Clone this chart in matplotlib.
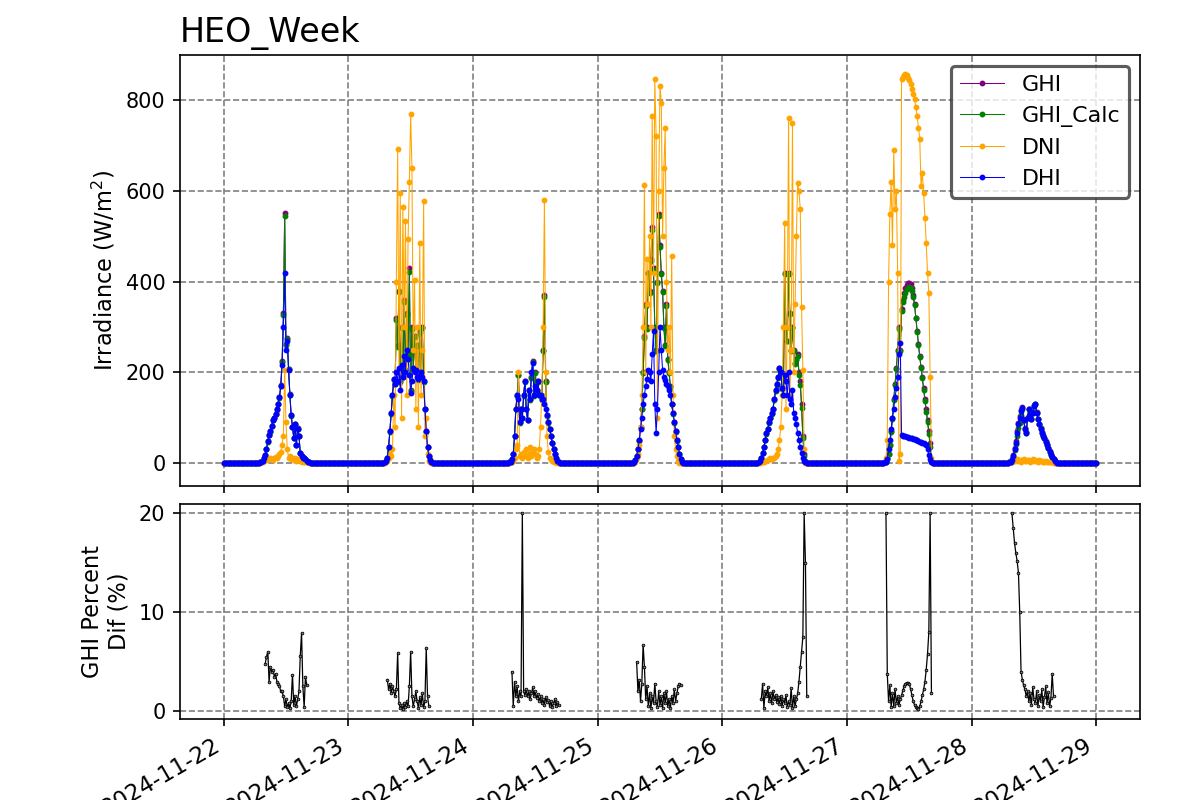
import numpy as np
import pandas as pd
import matplotlib
matplotlib.use("Agg")
import matplotlib.pyplot as plt
import matplotlib.dates as mdates

nan = np.nan

# each day: 15-min values from 06:30 to 17:00 (43 points), night is 0 / missing
days = ["2024-11-22", "2024-11-23", "2024-11-24", "2024-11-25",
        "2024-11-26", "2024-11-27", "2024-11-28"]
day_first = "6h30min"
step = "15min"

dhi_days = [
    [0,0,1,2,5,10,18,30,48,62, 70,82,95,100,108,118,130,145,170,215, 300,420,250,270,205,150,105,80,55,85, 40,75,60,22,15,12,10,8,5,2, 1,0,0],
    [0,0,2,5,12,35,70,110,150,185, 175,200,180,210,160,215,190,235,200,250, 230,195,155,180,210,200,205,190,185,195, 200,190,180,120,70,35,15,6,2,0, 0,0,0],
    [0,0,1,3,8,20,60,120,150,140, 90,120,100,150,180,120,95,160,140,200, 220,150,170,160,180,150,150,140,140,130, 120,105,90,75,60,45,30,20,10,5, 2,0,0],
    [0,0,2,6,15,30,50,75,100,130, 150,170,185,205,200,180,240,290,130,65, 120,200,300,250,205,190,183,175,170,160, 150,130,110,90,70,50,35,20,8,2, 0,0,0],
    [0,0,2,5,12,22,35,50,65,75, 90,100,110,120,140,160,175,190,210,200, 165,150,195,180,150,200,140,130,160,110, 100,85,66,50,35,22,12,5,1,0, 0,0,0],
    [0,0,0,1,3,8,30,50,75,100, 120,145,165,190,240,265,62,60,60,59, 58,57,56,55,54,53,52,51,50,48, 47,46,45,43,41,40,30,18,8,2, 0,0,0],
    [0,0,0,1,3,7,15,30,45,66, 85,100,114,122,95,75,66,100,118,105, 96,110,125,129,110,96,85,75,66,60, 55,47,40,32,25,18,13,8,4,2, 0,0,0],
]

ghi_days = [
    [0,0,1,2,5,10,18,30,48,62, 70,82,95,100,108,118,130,145,172,225, 330,552,262,275,208,152,105,80,56,86, 40,76,60,22,15,12,10,8,5,2, 1,0,0],
    [0,0,2,5,12,35,70,110,150,185, 175,320,260,380,180,300,190,360,205,330, 240,430,160,300,210,280,205,260,185,290, 200,300,180,120,70,35,15,6,2,0, 0,0,0],
    [0,0,1,3,8,20,60,120,150,195, 90,120,100,150,180,120,95,160,140,190, 225,150,200,160,180,150,150,140,250,370, 180,105,90,75,60,45,30,20,10,5, 2,0,0],
    [0,0,2,6,15,30,50,80,120,200, 280,350,300,420,380,450,520,430,300,250, 400,550,480,420,380,300,260,350,230,200, 170,130,110,90,70,50,35,20,8,2, 0,0,0],
    [0,0,2,5,12,22,35,50,65,75, 90,100,110,120,140,160,175,190,210,200, 165,150,420,300,270,420,330,250,300,250, 220,230,240,200,180,130,60,20,5,0, 0,0,0],
    [0,0,0,1,3,10,20,40,70,100, 140,175,210,250,300,250,340,360,375,385, 393,397,398,395,385,370,350,320,290,262, 235,212,190,165,140,118,95,70,45,5, 0,0,0],
    [0,0,0,1,3,8,17,33,49,70, 88,103,116,124,97,77,68,102,120,107, 98,112,127,131,112,98,87,77,68,61, 56,48,41,33,26,19,14,9,5,2, 0,0,0],
]

ghi_calc_days = [
    [0,0,1,2,5,10,18,30,47,61, 69,81,94,99,107,117,129,144,170,222, 326,545,260,273,207,151,104,80,55,85, 40,75,60,22,15,12,10,8,5,2, 1,0,0],
    [0,0,2,5,12,34,69,109,148,183, 174,316,256,378,179,297,189,356,204,327, 238,422,158,296,208,277,203,257,184,287, 199,297,179,119,69,35,15,6,2,0, 0,0,0],
    [0,0,1,3,8,20,59,118,148,193, 89,118,99,148,178,119,94,158,139,188, 222,148,198,158,178,149,149,139,247,366, 178,104,89,74,59,45,30,20,10,5, 2,0,0],
    [0,0,2,6,15,30,49,78,118,198, 276,346,296,418,376,446,515,426,297,248, 398,545,477,416,377,297,258,346,228,198, 168,129,109,89,69,49,35,20,8,2, 0,0,0],
    [0,0,2,5,12,22,35,50,64,74, 89,99,109,119,139,158,173,188,208,198, 164,149,416,298,268,416,328,248,297,247, 218,228,237,194,173,122,55,16,5,0, 0,0,0],
    [0,0,0,1,3,9,19,39,69,98, 139,173,208,247,296,248,336,354,367,376, 383,387,388,386,380,367,348,319,289,261, 234,210,187,161,136,113,90,64,36,5, 0,0,0],
    [0,0,0,1,3,7,14,28,42,60, 76,89,105,120,95,75,67,100,118,105, 97,110,125,129,110,96,86,76,67,60, 55,47,40,32,25,18,13,8,4,2, 0,0,0],
]

dni_days = [
    [0,0,1,2,3,5,8,6,10,8, 12,9,7,11,14,10,15,20,25,40, 60,205,90,30,12,15,8,10,6,12, 5,8,9,4,3,5,2,3,2,1, 0,0,0],
    [0,0,0,2,5,10,20,15,30,150, 80,400,692,200,596,100,564,300,534,150, 493,620,769,650,250,404,120,300,80,486, 150,250,577,60,100,20,5,2,0,0, 0,0,0],
    [0,0,0,1,2,5,10,30,40,200, 15,20,10,25,15,30,10,20,35,15, 25,30,20,10,15,30,80,150,300,580, 200,60,25,10,8,5,3,2,1,0, 0,0,0],
    [0,0,0,2,10,20,40,80,150,300, 614,200,450,350,500,300,765,420,846,722, 100,600,832,795,500,650,740,400,250,300, 200,456,150,60,30,15,5,0,0,0, 0,0,0],
    [0,0,0,0,1,2,3,5,5,6, 8,10,8,12,10,15,20,30,50,80, 150,300,530,120,300,762,150,250,750,200, 350,500,618,600,560,345,205,30,0,0, 0,0,0],
    [0,0,0,2,10,50,400,550,620,480, 690,560,600,420,5,20,846,852,856,857, 855,850,845,835,825,815,802,785,765,740, 715,610,640,596,540,485,420,375,190,10, 0,0,0],
    [0,0,0,1,2,3,5,4,6,8, 5,7,3,6,8,4,5,7,6,3, 5,8,4,6,5,3,6,4,5,3, 2,4,3,2,1,2,1,0,0,0, 0,0,0],
]

pct_days = [
    [nan,nan,nan,nan,nan,nan,4.8,5.5,6.0,3.0, 4.5,4.0,4.2,3.5,3.8,3.0,2.8,2.5,2.0,2.0, 1.5,0.5,1.2,0.4,0.8,0.3,1.0,3.7,0.6,1.5, 0.5,1.2,2.0,5.6,7.9,2.5,0.4,3.5,2.6,nan, nan,nan,nan],
    [nan,nan,nan,nan,3.2,2.2,2.8,1.8,2.5,2.0, 1.5,2.2,5.9,0.8,0.3,0.6,0.2,0.8,0.4,1.0, 0.5,2.5,6.0,1.5,0.5,1.2,2.0,1.0,0.3,1.4, 0.6,1.8,0.4,1.0,6.4,1.5,0.5,nan,nan,nan, nan,nan,nan],
    [nan,nan,nan,nan,4.0,0.5,3.0,1.5,2.5,1.0, 2.0,1.5,20.0,2.0,1.6,2.2,1.5,2.0,1.2,1.8, 2.4,1.5,2.0,1.3,1.7,1.0,1.5,0.8,1.2,0.6, 1.4,0.9,1.1,0.5,1.0,0.4,0.8,1.2,0.5,0.9, 0.6,nan,nan],
    [nan,nan,nan,nan,5.0,2.0,3.2,1.0,2.8,6.7, 4.5,1.2,2.5,0.5,1.8,0.3,1.5,0.8,2.8,1.0, 0.4,2.0,0.6,1.5,0.3,1.8,0.8,2.0,0.5,1.2, 0.3,1.5,0.8,2.2,1.0,1.8,2.5,2.8,2.6,nan, nan,nan,nan],
    [nan,nan,nan,nan,1.2,2.8,0.3,2.0,1.5,2.4, 1.0,1.8,0.8,2.0,1.2,1.6,0.9,1.4,0.7,1.5, 0.5,1.2,0.8,1.6,0.4,1.0,0.6,2.3,0.3,1.5, 0.5,1.2,1.8,3.0,4.5,6.0,7.5,20.0,15.0,1.5, nan,nan,nan],
    [nan,nan,nan,nan,20.0,3.8,1.0,2.6,0.4,1.8, 0.5,2.2,0.8,1.5,0.6,1.2,1.6,2.1,2.5,2.8, 2.9,2.9,2.7,2.2,1.6,1.0,0.6,0.4,0.3,0.2, 0.5,1.0,1.6,2.2,3.0,4.2,5.8,8.0,20.0,1.8, nan,nan,nan],
    [nan,nan,nan,nan,nan,20.0,18.5,17.0,16.0,15.2, 14.0,10.0,4.0,3.2,2.6,2.2,1.5,2.0,1.0,1.8, 0.6,2.4,1.2,0.8,2.0,0.5,1.6,1.0,2.2,0.4, 1.4,2.5,0.8,1.9,0.5,1.3,3.8,1.5,nan,nan, nan,nan,nan],
]

pct_ticks = [0, 10, 20]

times = pd.date_range("2024-11-22 00:00", "2024-11-29 00:00", freq=step)


def week_series(day_lists, night):
    s = pd.Series(night, index=times, dtype=float)
    for day, vals in zip(days, day_lists):
        start = pd.Timestamp(day) + pd.Timedelta(day_first)
        idx = pd.date_range(start, periods=len(vals), freq=step)
        s.loc[idx] = vals
    return s


ghi = week_series(ghi_days, 0.0)
ghi_calc = week_series(ghi_calc_days, 0.0)
dni = week_series(dni_days, 0.0)
dhi = week_series(dhi_days, 0.0)
pct = week_series(pct_days, nan)

fig, (ax1, ax2) = plt.subplots(2, 1, sharex=True, figsize=(8, 16 / 3), dpi=150,
                               gridspec_kw={"height_ratios": [2, 1]})
fig.subplots_adjust(left=0.15, right=0.95, top=0.93125, bottom=0.10125, hspace=0.056)

style = dict(marker="o", markersize=1.8, linewidth=0.5)
ax1.plot(ghi.index, ghi.values, color="purple", label="GHI", **style)
ax1.plot(ghi_calc.index, ghi_calc.values, color="green", label="GHI_Calc", **style)
ax1.plot(dni.index, dni.values, color="orange", label="DNI", **style)
ax1.plot(dhi.index, dhi.values, color="blue", label="DHI", **style)
ax1.set_ylim(-50, 900)
ax1.set_ylabel("Irradiance (W/m$^2$)", fontsize=10.8)
ax1.set_title("HEO_Week", loc="left", fontsize=16)
ax1.grid(True, linestyle="--", color="gray", linewidth=0.8)
leg = ax1.legend(loc="upper right", fontsize=10.6)
leg.get_frame().set_edgecolor("#333333")
leg.get_frame().set_linewidth(1.5)

ax2.plot(pct.index, pct.values, color="black", marker="o", markersize=1.3,
         markerfacecolor="0.5", markeredgewidth=0.4, linewidth=0.6)
ax2.set_yticks(pct_ticks)
ax2.set_ylabel("GHI Percent\nDif (%)", fontsize=10.8)
ax2.grid(True, linestyle="--", color="gray", linewidth=0.8)

ax2.xaxis.set_major_locator(mdates.DayLocator())
ax2.xaxis.set_major_formatter(mdates.DateFormatter("%Y-%m-%d"))
ax2.tick_params(axis="x", labelsize=11)
for lbl in ax2.get_xticklabels():
    lbl.set_rotation(30)
    lbl.set_ha("right")

fig.savefig("out.png", dpi=150)
